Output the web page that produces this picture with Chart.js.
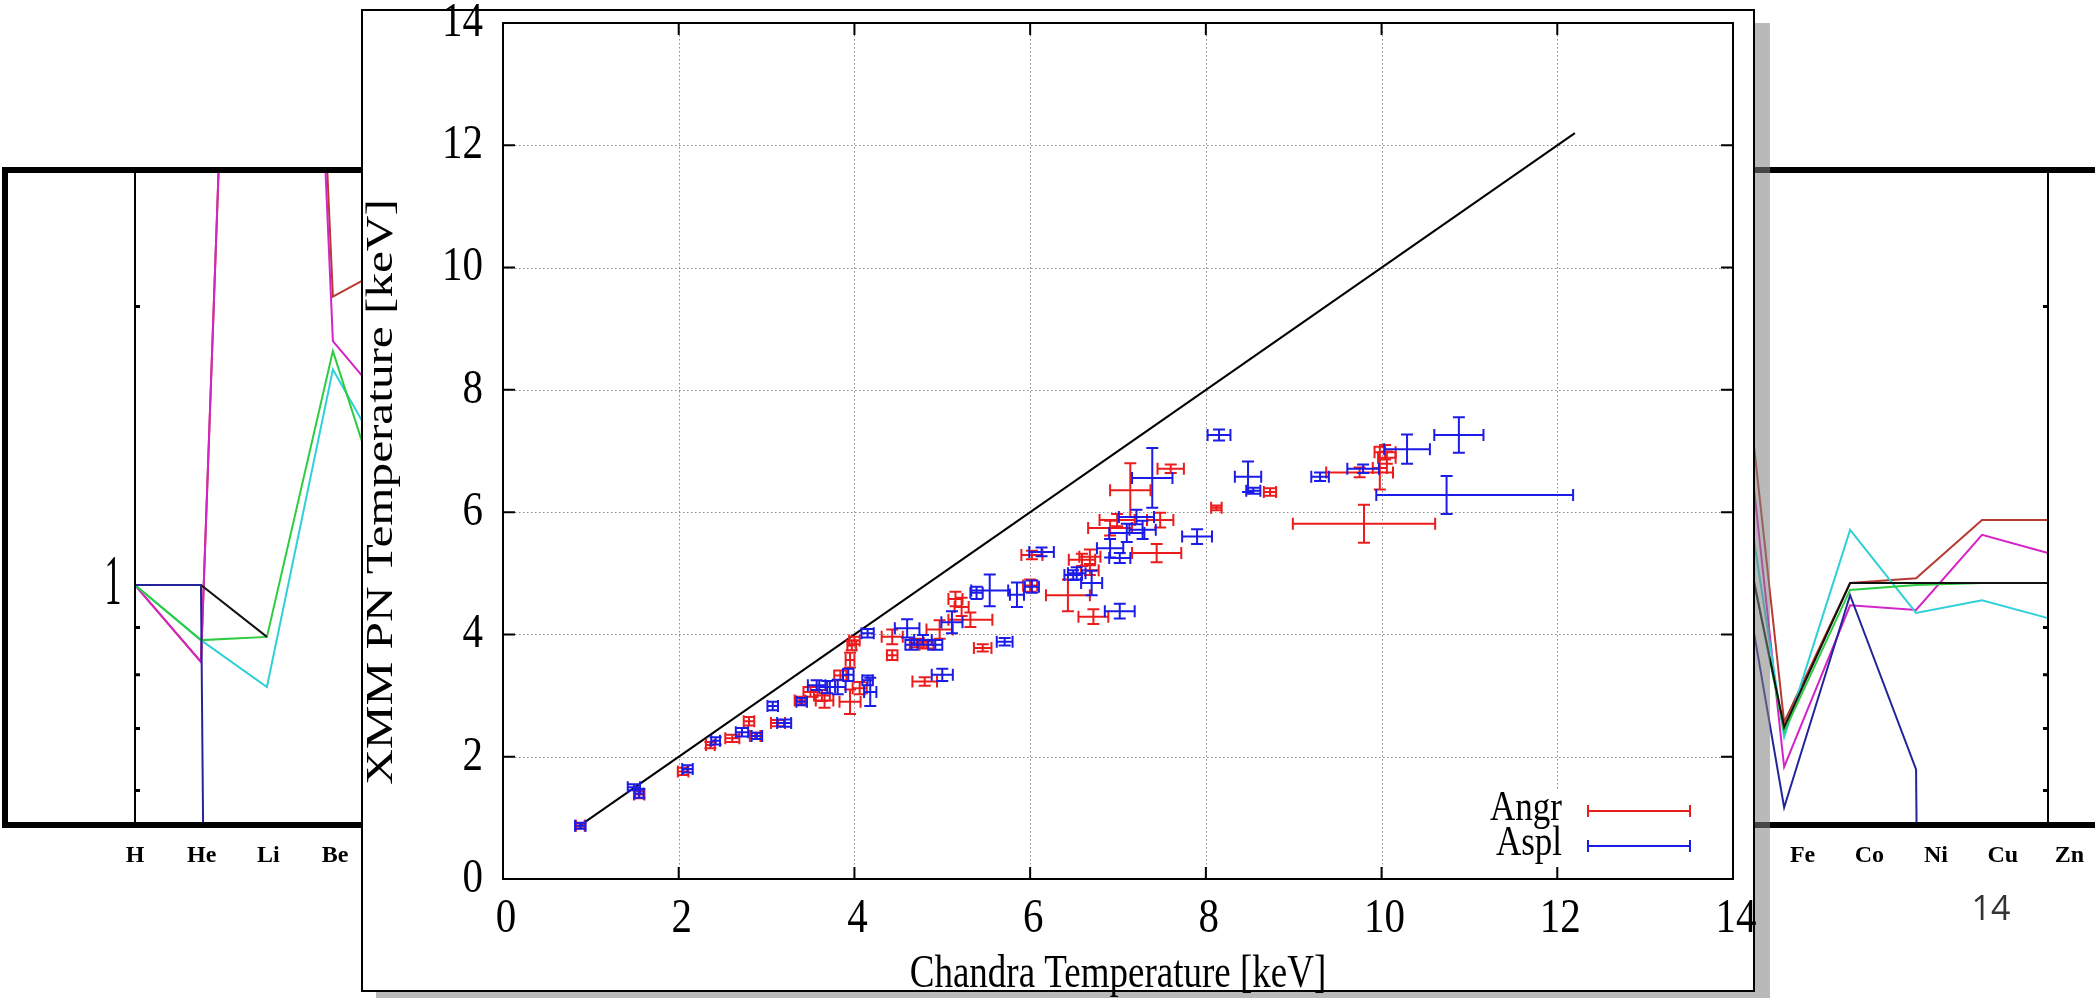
<!DOCTYPE html>
<html>
<head>
<meta charset="utf-8">
<script src="https://cdn.jsdelivr.net/npm/chart.js@4.4.1/dist/chart.umd.min.js"></script>
<style>
  html, body { margin: 0; padding: 0; background: #fff; }
  body { width: 2095px; height: 998px; position: relative; overflow: hidden; }
  #bgChart { position: absolute; left: 0; top: 0; z-index: 1; }
  #frame { position: absolute; left: 2px; top: 167px; width: 2200px; height: 649px;
           border: 6px solid #000; border-right: none; z-index: 2; }
  #panel { position: absolute; left: 361px; top: 9px; width: 1394px; height: 983px;
           box-sizing: border-box; border: 2px solid #000; background: #fff;
           box-shadow: 15px 14px 0 rgba(128,128,128,0.55); z-index: 3; }
  #mainChart { position: absolute; left: 0; top: 0; z-index: 4; }
  #pageNo { position: absolute; left: 1951px; top: 884px; width: 80px; text-align: center;
            font: 34px "Open Sans", sans-serif; color: #333; z-index: 1; }
</style>
</head>
<body>
<canvas id="bgChart" width="2095" height="998"></canvas>
<div id="frame"></div>
<div id="panel"></div>
<canvas id="mainChart" width="2095" height="998"></canvas>
<div id="pageNo">14</div>
<script>
// stretched text helper (the pasted gnuplot picture is squashed sideways)
function drawText(ctx, text, x, y, font, sy, align, rotate) {
  ctx.save();
  ctx.translate(x, y);
  ctx.scale(1, sy);
  if (rotate) ctx.rotate(-Math.PI / 2);
  ctx.font = font;
  ctx.textAlign = align;
  ctx.textBaseline = 'middle';
  ctx.fillStyle = '#000';
  ctx.fillText(text, 0, 0);
  ctx.restore();
}

// ---- background slide chart (abundance ratios, mostly hidden) ----
var elements = ["H","He","Li","Be","B","C","N","O","F","Ne","Na","Mg","Al","Si","P","S","Cl","Ar","K","Ca","Sc","Ti","V","Cr","Mn","Fe","Co","Ni","Cu","Zn"];
var hidden = [null,null,null,null,null,null,null,null,null,null,null,null,null,null,null,null,null,null,null];
var lineNavy    = [1, 1, 1e-8, null, null].concat(hidden, [1.49, 0.575, 0.975, 0.632, 1e-8]);
var lineBlack   = [1, 1, 0.879, null, null].concat(hidden, [1.55, 0.702, 1.005, 1.005, 1.005, 1.005]);
var lineCyan    = [1, 0.872, 0.776, 1.71, 1.28].concat(hidden, [2.0, 0.685, 1.147, 0.933, 0.963, 0.921]);
var lineGreen   = [1, 0.872, 0.879, 1.79, 1.075].concat(hidden, [1.58, 0.694, 0.988, 1.0, 1.005, 1.005]);
var lineMagenta = [1, 0.826, 80, 1.835, 1.51].concat(hidden, [2.9, 0.636, 0.951, 0.94, 1.133, 1.083]);
var lineRed     = [1, 0.826, 80, 2.05, 2.24].concat(hidden, [3.2, 0.711, 1.005, 1.017, 1.176, 1.176]);
var bgTickValues = [2, 0.9, 0.8, 0.7, 0.6];
var bgLabelValues = [1];

var bgAxes = {
  id: 'bgAxes',
  afterDraw: function(chart) {
    var ctx = chart.ctx, a = chart.chartArea, xs = chart.scales.x, ys = chart.scales.y;
    ctx.save();
    ctx.strokeStyle = '#000';
    ctx.lineWidth = 2;
    ctx.beginPath();
    ctx.moveTo(a.left, a.top); ctx.lineTo(a.left, a.bottom);
    ctx.moveTo(a.right, a.top); ctx.lineTo(a.right, a.bottom);
    ctx.stroke();
    ctx.lineWidth = 3;
    bgTickValues.forEach(function(v) {
      var py = ys.getPixelForValue(v);
      ctx.beginPath();
      ctx.moveTo(a.left, py); ctx.lineTo(a.left + 5, py);
      ctx.moveTo(a.right, py); ctx.lineTo(a.right - 5, py);
      ctx.stroke();
    });
    ctx.restore();
    bgLabelValues.forEach(function(v) {
      drawText(ctx, String(v), a.left - 22, ys.getPixelForValue(v), '34px "Liberation Serif"', 2.1, 'center');
    });
    // element labels sit on a slightly wider pitch than the plotted vertices
    elements.forEach(function(el, i) {
      var px = a.left + (xs.getPixelForValue(i) - a.left) * 1.0112;
      drawText(ctx, el, px, a.bottom + 34, 'bold 24px "Liberation Serif"', 1, 'center');
    });
  }
};

function bgSet(data, color) {
  return { data: data, borderColor: color, borderWidth: 2, pointRadius: 0, fill: false, tension: 0 };
}

new Chart(document.getElementById('bgChart'), {
  type: 'line',
  data: {
    labels: elements,
    datasets: [
      bgSet(lineNavy, '#24249a'),
      bgSet(lineBlack, '#111111'),
      bgSet(lineGreen, '#2ecc40'),
      bgSet(lineCyan, '#30d0d8'),
      bgSet(lineMagenta, '#d424c8'),
      bgSet(lineRed, '#b83a30')
    ]
  },
  options: {
    responsive: false,
    animation: false,
    devicePixelRatio: 1,
    layout: { padding: { left: 0, right: 47, top: 173, bottom: 0 } },
    plugins: { legend: { display: false }, tooltip: { enabled: false } },
    scales: {
      x: {
        type: 'category',
        offset: false,
        grid: { display: false, drawTicks: false },
        border: { display: false },
        ticks: { display: false },
        afterFit: function(s) { s.height = 176; s.paddingLeft = 0; s.paddingRight = 0; }
      },
      y: {
        type: 'logarithmic',
        min: 0.5546,
        max: 2.788,
        grid: { display: false, drawTicks: false },
        border: { display: false },
        ticks: { display: false },
        afterFit: function(s) { s.width = 135; s.paddingTop = 0; s.paddingBottom = 0; }
      }
    }
  },
  plugins: [bgAxes]
});

// ---- main chart: XMM vs Chandra temperatures ----
var tickValues = [0, 2, 4, 6, 8, 10, 12, 14];
var diagX = [0.87, 12.2];

var angrX = [0.88, 1.55, 2.05, 2.36, 2.61, 2.80, 2.87, 3.13, 3.38, 3.50, 3.63, 3.66, 3.84, 3.95, 3.97, 4.00, 3.95, 4.06, 4.43, 4.43, 4.71, 4.82, 4.97, 4.80, 5.15, 5.22, 5.32, 5.46, 6.02, 6.00, 6.43, 6.59, 6.68, 6.68, 6.72, 6.91, 6.99, 7.14, 7.44, 7.48, 7.60, 8.12, 8.73, 9.75, 9.98, 10.04, 10.06, 9.80];
var angrY = [0.87, 1.38, 1.76, 2.19, 2.30, 2.58, 2.34, 2.55, 2.92, 3.06, 3.00, 2.92, 3.33, 3.58, 3.82, 3.90, 2.90, 3.12, 3.96, 3.66, 3.86, 3.83, 4.08, 3.23, 4.58, 4.45, 4.24, 3.78, 5.30, 4.80, 4.64, 5.22, 5.05, 5.27, 4.29, 5.74, 5.87, 6.36, 5.33, 5.87, 6.71, 6.07, 6.33, 6.65, 6.72, 6.98, 6.89, 5.81];
var angrXErr = [0.05, 0.06, 0.06, 0.05, 0.08, 0.06, 0.06, 0.08, 0.06, 0.08, 0.09, 0.10, 0.07, 0.05, 0.05, 0.06, 0.12, 0.08, 0.12, 0.06, 0.08, 0.08, 0.15, 0.14, 0.08, 0.08, 0.25, 0.10, 0.12, 0.08, 0.25, 0.15, 0.10, 0.12, 0.17, 0.25, 0.20, 0.23, 0.28, 0.15, 0.15, 0.06, 0.07, 0.38, 0.08, 0.12, 0.10, 0.81];
var angrYErr = [0.04, 0.06, 0.06, 0.05, 0.06, 0.07, 0.05, 0.05, 0.06, 0.08, 0.09, 0.12, 0.08, 0.12, 0.08, 0.06, 0.20, 0.10, 0.12, 0.08, 0.07, 0.06, 0.15, 0.07, 0.12, 0.15, 0.12, 0.06, 0.07, 0.10, 0.26, 0.10, 0.08, 0.12, 0.12, 0.12, 0.10, 0.44, 0.15, 0.12, 0.07, 0.04, 0.06, 0.08, 0.35, 0.12, 0.10, 0.31];

var asplX = [0.88, 1.49, 1.55, 2.10, 2.42, 2.72, 2.89, 3.07, 3.20, 3.40, 3.57, 3.69, 3.81, 3.93, 4.15, 4.18, 4.15, 4.60, 4.65, 4.78, 4.92, 5.00, 5.11, 5.39, 5.54, 5.71, 5.85, 6.02, 6.13, 6.49, 6.53, 6.70, 6.91, 7.02, 7.02, 7.10, 7.21, 7.28, 7.39, 7.90, 8.15, 8.48, 8.54, 9.30, 9.79, 10.29, 10.88, 10.74];
var asplY = [0.87, 1.50, 1.40, 1.80, 2.26, 2.40, 2.34, 2.83, 2.55, 2.90, 3.17, 3.14, 3.14, 3.34, 3.25, 3.06, 4.02, 4.10, 3.83, 3.91, 3.83, 3.34, 4.20, 4.68, 4.72, 3.88, 4.65, 4.78, 5.35, 4.97, 5.00, 4.84, 5.41, 5.25, 4.38, 5.66, 5.92, 5.71, 6.56, 5.60, 7.26, 6.58, 6.35, 6.58, 6.71, 7.03, 7.26, 6.28];
var asplXErr = [0.06, 0.07, 0.05, 0.06, 0.05, 0.07, 0.06, 0.06, 0.08, 0.06, 0.10, 0.09, 0.09, 0.06, 0.06, 0.07, 0.07, 0.14, 0.07, 0.10, 0.08, 0.12, 0.12, 0.07, 0.21, 0.09, 0.08, 0.08, 0.14, 0.10, 0.10, 0.12, 0.15, 0.12, 0.17, 0.20, 0.20, 0.15, 0.23, 0.17, 0.13, 0.15, 0.08, 0.10, 0.18, 0.26, 0.28, [0.80, 1.44]];
var asplYErr = [0.05, 0.05, 0.07, 0.06, 0.06, 0.07, 0.05, 0.07, 0.06, 0.06, 0.08, 0.10, 0.12, 0.10, 0.08, 0.23, 0.07, 0.15, 0.08, 0.08, 0.08, 0.10, 0.18, 0.10, 0.26, 0.06, 0.20, 0.10, 0.07, 0.08, 0.10, 0.20, 0.15, 0.08, 0.12, 0.15, 0.12, 0.15, 0.49, 0.12, 0.09, 0.25, 0.05, 0.07, 0.07, 0.24, 0.29, 0.31];

var RED = '#ec1c1c', BLUE = '#1c1ce8';
var CAP = 6;

function toPoints(xs, ys) {
  return xs.map(function(v, i) { return { x: v, y: ys[i] }; });
}

// dotted grid, drawn under the data
var dottedGrid = {
  id: 'dottedGrid',
  beforeDatasetsDraw: function(chart) {
    var ctx = chart.ctx, a = chart.chartArea, xs = chart.scales.x, ys = chart.scales.y;
    ctx.save();
    ctx.strokeStyle = '#8a8a8a';
    ctx.lineWidth = 1;
    ctx.setLineDash([1.5, 2.5]);
    tickValues.slice(1, -1).forEach(function(v) {
      var px = Math.round(xs.getPixelForValue(v)) + 0.5;
      var py = Math.round(ys.getPixelForValue(v)) + 0.5;
      ctx.beginPath();
      ctx.moveTo(px, a.top); ctx.lineTo(px, a.bottom);
      ctx.moveTo(a.left, py); ctx.lineTo(a.right, py);
      ctx.stroke();
    });
    ctx.restore();
  }
};

// x and y error bars with caps
var errorBars = {
  id: 'errorBars',
  afterDatasetsDraw: function(chart) {
    var ctx = chart.ctx, a = chart.chartArea, xs = chart.scales.x, ys = chart.scales.y;
    ctx.save();
    ctx.beginPath();
    ctx.rect(a.left, a.top, a.right - a.left, a.bottom - a.top);
    ctx.clip();
    ctx.lineWidth = 2;
    chart.data.datasets.forEach(function(ds) {
      if (!ds.xErr) return;
      ctx.strokeStyle = ds.borderColor;
      ds.data.forEach(function(p, i) {
        var xe = ds.xErr[i], ye = ds.yErr[i];
        var xl = Array.isArray(xe) ? xe[0] : xe, xh = Array.isArray(xe) ? xe[1] : xe;
        var px = xs.getPixelForValue(p.x), py = ys.getPixelForValue(p.y);
        var x0 = xs.getPixelForValue(p.x - xl), x1 = xs.getPixelForValue(p.x + xh);
        var y0 = ys.getPixelForValue(p.y - ye), y1 = ys.getPixelForValue(p.y + ye);
        ctx.beginPath();
        ctx.moveTo(x0, py); ctx.lineTo(x1, py);
        ctx.moveTo(x0, py - CAP); ctx.lineTo(x0, py + CAP);
        ctx.moveTo(x1, py - CAP); ctx.lineTo(x1, py + CAP);
        ctx.moveTo(px, y0); ctx.lineTo(px, y1);
        ctx.moveTo(px - CAP, y0); ctx.lineTo(px + CAP, y0);
        ctx.moveTo(px - CAP, y1); ctx.lineTo(px + CAP, y1);
        ctx.stroke();
      });
    });
    ctx.restore();
  }
};

// gnuplot style frame with inward ticks, tick labels, axis titles and the key
var frameAndKey = {
  id: 'frameAndKey',
  afterDraw: function(chart) {
    var ctx = chart.ctx, a = chart.chartArea, xs = chart.scales.x, ys = chart.scales.y;
    ctx.save();
    ctx.fillStyle = '#fff';
    ctx.fillRect(1480, 790, a.right - 1482, 76);
    ctx.strokeStyle = '#000';
    ctx.lineWidth = 2;
    ctx.strokeRect(a.left, a.top, a.right - a.left, a.bottom - a.top);
    tickValues.slice(1, -1).forEach(function(v) {
      var px = xs.getPixelForValue(v), py = ys.getPixelForValue(v);
      ctx.beginPath();
      ctx.moveTo(px, a.bottom); ctx.lineTo(px, a.bottom - 12);
      ctx.moveTo(px, a.top); ctx.lineTo(px, a.top + 12);
      ctx.moveTo(a.left, py); ctx.lineTo(a.left + 12, py);
      ctx.moveTo(a.right, py); ctx.lineTo(a.right - 12, py);
      ctx.stroke();
    });
    ctx.restore();

    var tickFont = '41px "Liberation Serif"';
    tickValues.forEach(function(v) {
      drawText(ctx, String(v), a.left - 20, ys.getPixelForValue(v), tickFont, 1.2, 'right');
      drawText(ctx, String(v), xs.getPixelForValue(v) + 3, a.bottom + 40, tickFont, 1.2, 'center');
    });
    var titleFont = '37px "Liberation Serif"';
    drawText(ctx, 'Chandra Temperature [keV]', (a.left + a.right) / 2, 975, titleFont, 1.25, 'center');
    drawText(ctx, 'XMM PN Temperature [keV]', 382, 492, titleFont, 1.33, 'center', true);

    var keys = [['Angr', RED, 811], ['Aspl', BLUE, 846]];
    keys.forEach(function(k) {
      drawText(ctx, k[0], 1562, k[2] - 2, '35px "Liberation Serif"', 1.22, 'right');
      ctx.save();
      ctx.strokeStyle = k[1];
      ctx.lineWidth = 2;
      ctx.beginPath();
      ctx.moveTo(1588, k[2]); ctx.lineTo(1690, k[2]);
      ctx.moveTo(1588, k[2] - CAP); ctx.lineTo(1588, k[2] + CAP);
      ctx.moveTo(1690, k[2] - CAP); ctx.lineTo(1690, k[2] + CAP);
      ctx.stroke();
      ctx.restore();
    });
  }
};

new Chart(document.getElementById('mainChart'), {
  type: 'scatter',
  data: {
    datasets: [
      { label: 'y = x', data: toPoints(diagX, diagX), showLine: true, borderColor: '#000',
        borderWidth: 2, pointRadius: 0 },
      { label: 'Angr', data: toPoints(angrX, angrY), xErr: angrXErr, yErr: angrYErr,
        borderColor: RED, backgroundColor: RED, pointRadius: 0 },
      { label: 'Aspl', data: toPoints(asplX, asplY), xErr: asplXErr, yErr: asplYErr,
        borderColor: BLUE, backgroundColor: BLUE, pointRadius: 0 }
    ]
  },
  options: {
    responsive: false,
    animation: false,
    devicePixelRatio: 1,
    layout: { padding: { left: 357, right: 362, top: 23, bottom: 0 } },
    plugins: { legend: { display: false }, tooltip: { enabled: false } },
    scales: {
      x: {
        type: 'linear', min: 0, max: 14,
        grid: { display: false, drawTicks: false },
        border: { display: false },
        ticks: { display: false, stepSize: 2 },
        afterFit: function(s) { s.height = 119; s.paddingLeft = 0; s.paddingRight = 0; }
      },
      y: {
        type: 'linear', min: 0, max: 14,
        grid: { display: false, drawTicks: false },
        border: { display: false },
        ticks: { display: false, stepSize: 2 },
        afterFit: function(s) { s.width = 146; s.paddingTop = 0; s.paddingBottom = 0; }
      }
    }
  },
  plugins: [dottedGrid, errorBars, frameAndKey]
});
</script>
</body>
</html>
